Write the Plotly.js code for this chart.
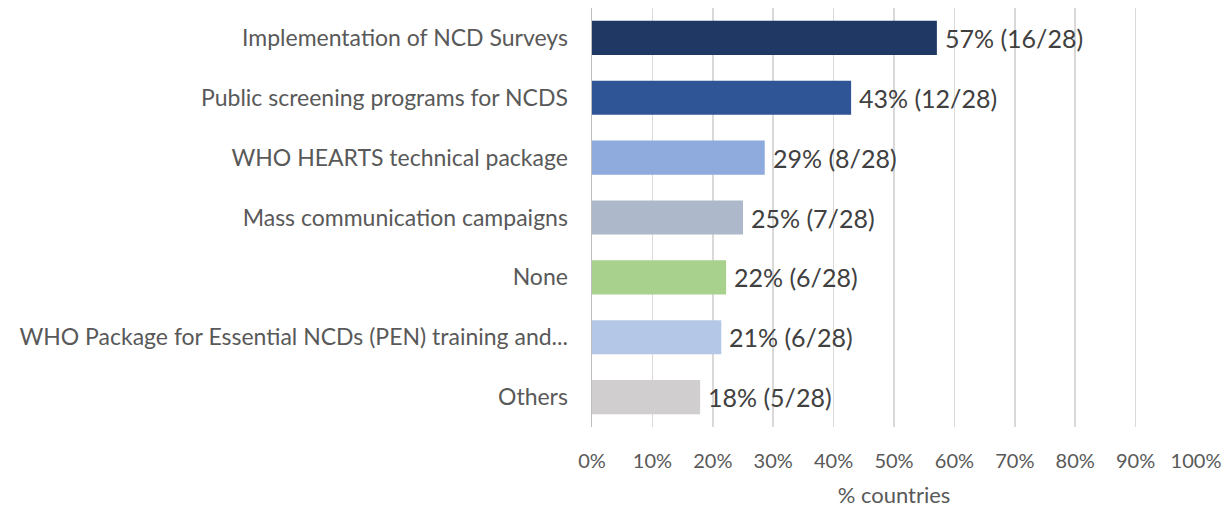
<!DOCTYPE html>
<html><head><meta charset="utf-8">
<script src="https://cdn.plot.ly/plotly-3.0.1.min.js"></script>
<style>body{margin:0;background:#fff}#c{width:1232px;height:508px}</style>
</head><body><div id="c"></div>
<script>
const categories = [
  "Implementation of NCD Surveys",
  "Public screening programs for NCDS",
  "WHO HEARTS technical package",
  "Mass communication campaigns",
  "None",
  "WHO Package for Essential NCDs (PEN) training and...",
  "Others"
];
const values = [57.1, 42.9, 28.6, 25.0, 22.2, 21.4, 17.9];
const labels = ["57% (16/28)", "43% (12/28)", "29% (8/28)", "25% (7/28)", "22% (6/28)", "21% (6/28)", "18% (5/28)"];
const colors = ["#203864", "#2f5597", "#8faadc", "#adb9ca", "#a9d18e", "#b4c7e7", "#d0cece"];
const tickVals = [0,10,20,30,40,50,60,70,80,90,100];
const tickText = ["0%","10%","20%","30%","40%","50%","60%","70%","80%","90%","100%"];

const font = "Lato, 'Liberation Sans Narrow', sans-serif";
const annotations = categories.map((c, i) => ({
  x: values[i], y: c, xref: "x", yref: "y",
  text: labels[i], showarrow: false, xanchor: "left", xshift: 6,
  font: {family: font, size: 25, color: "#404040"}
}));
Plotly.newPlot("c", [{
  type: "bar", orientation: "h",
  y: categories, x: values,
  marker: {color: colors},
  hoverinfo: "none"
}], {
  width: 1232, height: 508,
  margin: {l: 592, r: 36, t: 8, b: 81},
  paper_bgcolor: "#fff", plot_bgcolor: "#fff",
  bargap: 0.43,
  showlegend: false,
  annotations: annotations,
  xaxis: {
    range: [0, 100], tickvals: tickVals, ticktext: tickText,
    showgrid: true, gridcolor: "#d9d9d9", gridwidth: 1.5,
    zeroline: false, showline: false, ticks: "",
    ticklabelstandoff: 20,
    tickfont: {family: font, size: 20, color: "#595959"},
    title: {text: "% countries", font: {family: font, size: 22, color: "#595959"}, standoff: 18},
    fixedrange: true
  },
  yaxis: {
    autorange: "reversed",
    showline: true, linecolor: "#bfbfbf", linewidth: 1.5,
    ticks: "", ticklabelstandoff: 18,
    tickfont: {family: font, size: 23, color: "#595959"},
    fixedrange: true
  }
}, {displayModeBar: false, staticPlot: true});
</script></body></html>
